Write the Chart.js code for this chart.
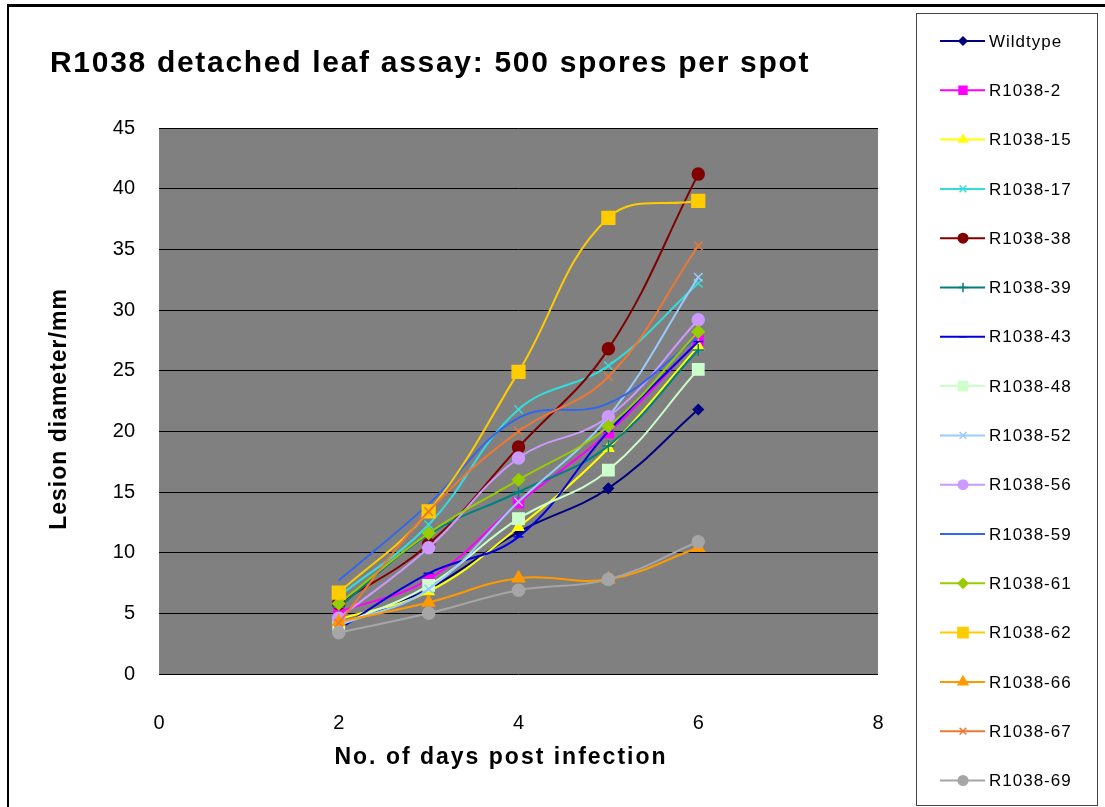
<!DOCTYPE html>
<html>
<head>
<meta charset="utf-8">
<title>R1038 detached leaf assay</title>
<script src="https://cdn.jsdelivr.net/npm/chart.js@4.4.1/dist/chart.umd.min.js"></script>
<style>
	html, body { margin: 0; padding: 0; background: #fff; }
	#wrap { width: 1105px; height: 807px; position: relative; }
</style>
</head>
<body>
<div id="wrap"><canvas id="leafChart"></canvas></div>
<script>
const days = [2, 3, 4, 5, 6];
const xTicks = [0, 2, 4, 6, 8];
const yTicks = [0, 5, 10, 15, 20, 25, 30, 35, 40, 45];

const chartTitle = 'R1038 detached leaf assay: 500 spores per spot';
const xTitle = 'No. of days post infection';
const yTitle = 'Lesion diameter/mm';

// lesion diameter (mm)
const wildtype = [4.0, 7.0, 11.7, 15.3, 21.8];
const r2 = [5.1, 7.8, 14.1, 19.9, 27.5];
const r15 = [4.5, 6.8, 12.1, 18.6, 27.0];
const r17 = [6.4, 12.3, 21.8, 25.4, 32.2];
const r38 = [5.8, 10.7, 18.7, 26.8, 41.2];
const r39 = [5.5, 11.5, 15.0, 18.8, 26.7];
const r43 = [3.7, 8.3, 11.3, 20.0, 27.4];
const r48 = [4.0, 7.3, 12.8, 16.8, 25.1];
const r52 = [4.0, 7.0, 14.2, 21.2, 32.7];
const r56 = [4.6, 10.4, 17.8, 21.2, 29.2];
const r59 = [7.7, 14.0, 21.1, 22.3, 27.8];
const r61 = [5.8, 11.6, 16.0, 20.4, 28.2];
const r62 = [6.7, 13.4, 24.9, 37.6, 39.0];
const r66 = [4.3, 5.9, 7.9, 7.8, 10.4];
const r67 = [4.2, 13.4, 20.0, 24.5, 35.3];
const r69 = [3.4, 5.0, 6.9, 7.8, 10.9];

const series = [
	{ label: 'Wildtype', data: wildtype, color: '#000080', style: 'rectRot', r: 5 },
	{ label: 'R1038-2', data: r2, color: '#FF00FF', style: 'rect', r: 7 },
	{ label: 'R1038-15', data: r15, color: '#FFFF00', style: 'triangle', r: 6 },
	{ label: 'R1038-17', data: r17, color: '#33DDDD', style: 'crossRot', r: 6 },
	{ label: 'R1038-38', data: r38, color: '#800000', style: 'circle', r: 6 },
	{ label: 'R1038-39', data: r39, color: '#008080', style: 'cross', r: 6 },
	{ label: 'R1038-43', data: r43, color: '#0000E0', style: 'line', r: 5 },
	{ label: 'R1038-48', data: r48, color: '#CCFFCC', style: 'rect', r: 8 },
	{ label: 'R1038-52', data: r52, color: '#99CCFF', style: 'crossRot', r: 6 },
	{ label: 'R1038-56', data: r56, color: '#CC99FF', style: 'circle', r: 6 },
	{ label: 'R1038-59', data: r59, color: '#3366EE', style: false, r: 0 },
	{ label: 'R1038-61', data: r61, color: '#99CC00', style: 'rectRot', r: 6 },
	{ label: 'R1038-62', data: r62, color: '#FFCC00', style: 'rect', r: 9 },
	{ label: 'R1038-66', data: r66, color: '#FF9900', style: 'triangle', r: 7 },
	{ label: 'R1038-67', data: r67, color: '#EE7733', style: 'crossRot', r: 6 },
	{ label: 'R1038-69', data: r69, color: '#A6A6A6', style: 'circle', r: 6 }
];

const FONT = "Arial, 'Liberation Sans', sans-serif";
Chart.defaults.font.family = FONT;
Chart.defaults.color = '#000';

// white page, frame and grey plot area
const backdrop = {
	id: 'backdrop',
	beforeDraw(chart) {
		const { ctx, chartArea: a } = chart;
		ctx.save();
		ctx.fillStyle = '#fff';
		ctx.fillRect(0, 0, chart.width, chart.height);
		ctx.fillStyle = '#808080';
		ctx.fillRect(a.left, a.top, a.right - a.left, a.bottom - a.top);
		ctx.strokeStyle = '#000';
		ctx.lineWidth = 3;
		ctx.beginPath();
		ctx.moveTo(7, 5.5);
		ctx.lineTo(chart.width, 5.5);
		ctx.stroke();
		ctx.lineWidth = 2;
		ctx.beginPath();
		ctx.moveTo(8, 5);
		ctx.lineTo(8, chart.height);
		ctx.stroke();
		ctx.restore();
	}
};

// the old Excel text is set wide, so the titles are drawn here with letter spacing
const titles = {
	id: 'titles',
	afterDraw(chart) {
		const { ctx, chartArea: a } = chart;
		ctx.save();
		ctx.fillStyle = '#000';
		ctx.textBaseline = 'middle';

		ctx.font = 'bold 30px ' + FONT;
		ctx.letterSpacing = '1.7px';
		ctx.textAlign = 'left';
		ctx.fillText(chartTitle, 50, 64);

		ctx.font = 'bold 23px ' + FONT;
		ctx.letterSpacing = '2px';
		ctx.textAlign = 'center';
		ctx.fillText(xTitle, 501, 758);

		ctx.letterSpacing = '1px';
		ctx.translate(60, 409);
		ctx.rotate(-Math.PI / 2);
		ctx.fillText(yTitle, 0, 0);
		ctx.restore();
	}
};

// legend in its own box on the right
const sideLegend = {
	id: 'sideLegend',
	afterDraw(chart) {
		const ctx = chart.ctx;
		ctx.save();
		ctx.strokeStyle = '#444';
		ctx.lineWidth = 1;
		ctx.strokeRect(916.5, 13.5, 181, 792);
		ctx.font = '17px ' + FONT;
		ctx.letterSpacing = '1px';
		ctx.textBaseline = 'middle';
		ctx.textAlign = 'left';
		chart.data.datasets.forEach((ds, i) => {
			const y = 41 + i * 49.3;
			ctx.strokeStyle = ds.borderColor;
			ctx.lineWidth = 2;
			ctx.beginPath();
			ctx.moveTo(940, y);
			ctx.lineTo(985, y);
			ctx.stroke();
			if (ds.pointStyle) {
				ctx.fillStyle = ds.borderColor;
				ctx.strokeStyle = ds.borderColor;
				ctx.lineWidth = 1.5;
				Chart.helpers.drawPoint(ctx, {
					pointStyle: ds.pointStyle,
					radius: ds.pointRadius * 0.8,
					rotation: 0,
					borderWidth: 1.5
				}, 963, y);
			}
			ctx.fillStyle = '#000';
			ctx.fillText(ds.label, 989, y + 1);
		});
		ctx.restore();
	}
};

const datasets = series.map((s, i) => ({
	label: s.label,
	data: days.map((d, k) => ({ x: d, y: s.data[k] })),
	borderColor: s.color,
	backgroundColor: s.color,
	pointBackgroundColor: s.color,
	pointBorderColor: s.color,
	pointStyle: s.style,
	pointRadius: s.r,
	pointBorderWidth: 1.5,
	borderWidth: 2,
	tension: 0.4,
	fill: false,
	order: -i
}));

const chart = new Chart(document.getElementById('leafChart'), {
	type: 'line',
	data: { datasets: datasets },
	plugins: [backdrop, titles, sideLegend],
	options: {
		responsive: true,
		maintainAspectRatio: false,
		animation: false,
		layout: { padding: { left: 48, right: 227, top: 128, bottom: 33 } },
		plugins: {
			legend: { display: false },
			tooltip: { enabled: false }
		},
		scales: {
			x: {
				type: 'linear',
				min: 0,
				max: 8,
				afterBuildTicks: s => { s.ticks = xTicks.map(v => ({ value: v })); },
				afterFit: s => { s.height = 100; },
				grid: { display: false },
				border: { display: false },
				ticks: { font: { size: 20 }, padding: 29 }
			},
			y: {
				min: 0,
				max: 45,
				afterBuildTicks: s => { s.ticks = yTicks.map(v => ({ value: v })); },
				afterFit: s => { s.width = 111; },
				grid: { color: '#000', lineWidth: 1, drawTicks: false },
				border: { display: false },
				ticks: { font: { size: 20 }, padding: 24 }
			}
		}
	}
});
</script>
</body>
</html>
